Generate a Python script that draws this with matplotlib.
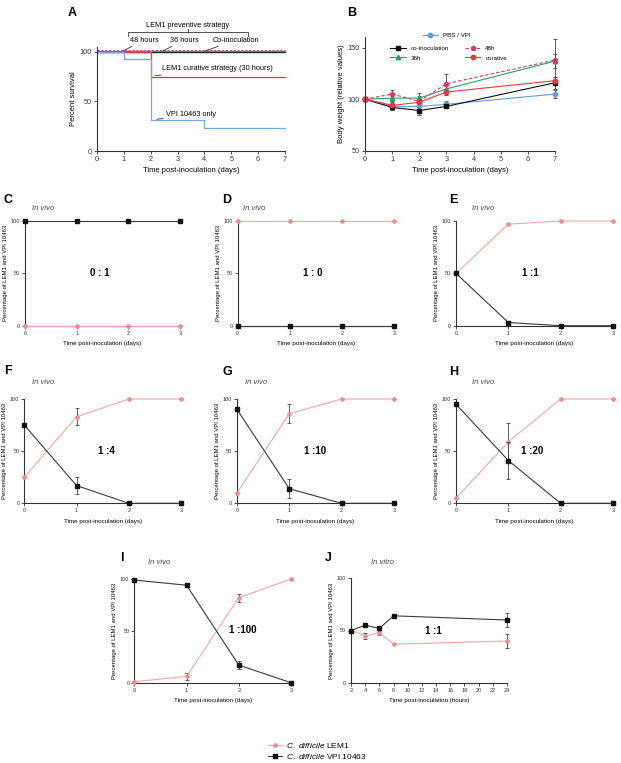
import matplotlib
matplotlib.use("Agg")
import matplotlib.pyplot as plt
from matplotlib.lines import Line2D

plt.rcParams['font.family'] = ['Liberation Sans', 'DejaVu Sans']
plt.rcParams['mathtext.fontset'] = 'custom'
plt.rcParams['mathtext.rm'] = 'Liberation Sans'
plt.rcParams['mathtext.it'] = 'Liberation Sans:italic'

W, H = 621, 763

# ---- panel A: survival (days) ----
surv_days = [0, 1, 2, 3, 4, 5, 6, 7]
surv_48h = [102, 102, 102, 102, 102, 102, 102, 102]
surv_36h = [101, 101, 101, 101, 101, 101, 101, 101]
surv_coinoc = [100, 100, 100, 100, 100, 100, 100, 100]
surv_curative = [100, 100, 75, 75, 75, 75, 75, 75]
surv_vpi = [100, 93, 31, 31, 23, 23, 23, 23]

# ---- panel B: body weight ----
bw_days = [0, 1, 2, 3, 7]
bw_pbs = [100, 93, 93, 95, 105]
bw_pbs_err = [0, 2, 3, 3, 4]
bw_coinoc = [100, 92, 89, 93, 116]
bw_coinoc_err = [0, 2, 4, 2, 6]
bw_48h = [100, 105, 98, 115, 138]
bw_48h_err = [0, 4, 5, 9, 20]
bw_36h = [100, 101, 101, 110, 137]
bw_36h_err = [0, 3, 5, 4, 7]
bw_curative = [100, 94, 97, 107, 118]
bw_curative_err = [0, 3, 4, 3, 4]

# ---- panels C-I: competition in vivo (days) ----
days = [0, 1, 2, 3]
panels = {
    'C': dict(lem=[0, 0, 0, 0], lem_err=[0, 0, 0, 0],
              vpi=[100, 100, 100, 100], vpi_err=[0, 0, 0, 0], ratio='0 : 1'),
    'D': dict(lem=[100, 100, 100, 100], lem_err=[0, 0, 0, 0],
              vpi=[0, 0, 0, 0], vpi_err=[0, 0, 0, 0], ratio='1 : 0'),
    'E': dict(lem=[50, 97, 100, 100], lem_err=[0, 1, 0, 0],
              vpi=[50, 3, 0, 0], vpi_err=[0, 1, 0, 0], ratio='1 :1'),
    'F': dict(lem=[25, 83, 100, 100], lem_err=[0, 8, 0, 0],
              vpi=[75, 17, 0, 0], vpi_err=[0, 8, 0, 0], ratio='1 :4'),
    'G': dict(lem=[10, 86, 100, 100], lem_err=[0, 9, 0, 0],
              vpi=[90, 14, 0, 0], vpi_err=[0, 9, 0, 0], ratio='1 :10'),
    'H': dict(lem=[5, 59, 100, 100], lem_err=[0, 18, 0, 0],
              vpi=[95, 41, 0, 0], vpi_err=[0, 18, 0, 0], ratio='1 :20'),
    'I': dict(lem=[1, 6, 82, 100], lem_err=[0, 3, 4, 0],
              vpi=[99, 94, 17, 0], vpi_err=[0, 2, 4, 0], ratio='1 :100'),
}

# ---- panel J: in vitro (hours) ----
hours = [2, 4, 6, 8, 24]
vitro_lem = [50, 45, 48, 37, 40]
vitro_lem_err = [0, 3, 2, 0, 7]
vitro_vpi = [50, 55, 52, 64, 60]
vitro_vpi_err = [0, 1, 1, 0, 7]

PINK = '#f08c8c'
PINK_LINE = '#f4a6a6'
DARK = '#111111'
DARK_LINE = '#3a3a3a'


def px_axes(x0, x1, y0, y1):
    # pixel box -> figure axes (y0 = bottom pixel row, y1 = top pixel row)
    return fig.add_axes([x0 / W, 1 - y0 / H, (x1 - x0) / W, (y0 - y1) / H])


def label(px, py, s, **kw):
    fig.text(px / W, 1 - py / H, s, **kw)


def style(ax, size=4):
    for s in ('top', 'right'):
        ax.spines[s].set_visible(False)
    for s in ('left', 'bottom'):
        ax.spines[s].set_linewidth(0.8)
        ax.spines[s].set_color('#333333')
    ax.tick_params(length=2, width=0.6, labelsize=size, pad=1.5, colors='#333333')


fig = plt.figure(figsize=(W / 100, H / 100), dpi=100)

# ----- A -----
ax = px_axes(97, 285, 151, 47)
style(ax, 5.3)
ax.step(surv_days, surv_coinoc, where='post', color='#222222', lw=1.0, clip_on=False)
ax.step(surv_days, surv_36h, where='post', color='#2a9d6a', lw=0.8, clip_on=False)
ax.step(surv_days, surv_48h, where='post', color='#e0457b', lw=0.8, ls=(0, (2, 1.5)), clip_on=False)
ax.step(surv_days, surv_curative, where='post', color='#e8383d', lw=0.9, clip_on=False)
ax.step(surv_days, surv_vpi, where='post', color='#6aaae8', lw=0.9, clip_on=False)
ax.set_xlim(0, 7)
ax.set_ylim(0, 105)
ax.set_xticks(range(8))
ax.set_yticks([0, 50, 100])
ax.set_xlabel('Time post-inoculation (days)', fontsize=5.5, labelpad=3)
ax.set_ylabel('Percent survival', fontsize=5.5, labelpad=2)
# bracket for preventive strategy
ax.plot([1.15, 1.15, 5.62, 5.62], [116, 120, 120, 116], color='#333333', lw=0.6, clip_on=False)
ax.plot([3.39, 3.39], [120, 123], color='#333333', lw=0.6, clip_on=False)
ax.text(3.39, 127, 'LEM1 preventive strategy', fontsize=5.3, ha='center', va='center')
kw = dict(fontsize=5.3, va='center', ha='left')
lead = dict(arrowstyle='-', color='#333333', lw=0.6, shrinkA=0, shrinkB=0)
ax.annotate('48 hours', xy=(0.97, 101), xytext=(1.22, 112), arrowprops=lead, **kw)
ax.annotate('36 hours', xy=(2.45, 101), xytext=(2.72, 112), arrowprops=lead, **kw)
ax.annotate('Co-inoculation', xy=(4.02, 101), xytext=(4.32, 112), arrowprops=lead, **kw)
ax.annotate('LEM1 curative strategy (30 hours)', xy=(2.16, 76), xytext=(2.42, 83), arrowprops=lead, **kw)
ax.annotate('VPI 10463 only', xy=(2.23, 32), xytext=(2.57, 37), arrowprops=lead, **kw)
for a in (ax.texts[1:]):
    a.set_annotation_clip(False)
label(72, 13, 'A', fontsize=9, fontweight='bold', ha='center', va='center')

# ----- B -----
ax = px_axes(365, 555, 150.7, 37.4)
style(ax, 5.3)
series_b = [
    ('PBS / VPI', bw_pbs, bw_pbs_err, '#5b9ee6', 'o', '-'),
    ('co-inoculation', bw_coinoc, bw_coinoc_err, '#111111', 's', '-'),
    ('36h', bw_36h, bw_36h_err, '#2a9d6a', '^', '-'),
    ('48h', bw_48h, bw_48h_err, '#d6336e', 'p', (0, (3, 2))),
    ('curative', bw_curative, bw_curative_err, '#e8383d', 'o', '-'),
]
handles = []
for name, y, e, c, m, ls in series_b:
    eb = ax.errorbar(bw_days, y, yerr=e, color=c, ls=ls, lw=0.8, marker=m, ms=3.2,
                     ecolor='#444444', elinewidth=0.6, capsize=1.5, capthick=0.6, clip_on=False)
    for art in eb.lines[1] + eb.lines[2]:
        art.set_clip_on(False)
    handles.append(Line2D([], [], color=c, ls=ls, lw=0.8, marker=m, ms=3.2))
ax.set_xlim(0, 7)
ax.set_ylim(50, 160)
ax.set_xticks(range(8))
ax.set_yticks([50, 100, 150])
ax.set_xlabel('Time post-inoculation (days)', fontsize=5.5, labelpad=3)
ax.set_ylabel('Body weight (relative values)', fontsize=5.5, labelpad=2)
leg1 = ax.legend([handles[0]], ['PBS / VPI'], loc='center', bbox_to_anchor=(0.43, 1.02),
                 frameon=False, fontsize=4.5, handlelength=2.5, borderpad=0)
ax.add_artist(leg1)
ax.legend([handles[1], handles[2], handles[3], handles[4]],
          ['co-inoculation', '36h', '48h', 'curative'], ncol=2, loc='center',
          bbox_to_anchor=(0.44, 0.86), frameon=False, fontsize=4.5, handlelength=2.5,
          columnspacing=2.5, labelspacing=0.6, borderpad=0)
label(352, 13, 'B', fontsize=9, fontweight='bold', ha='center', va='center')


def comp_panel(ax, x, lem, lem_err, vpi, vpi_err, ratio, rx, ry):
    style(ax, 4)
    eb1 = ax.errorbar(x, lem, yerr=lem_err, color=PINK_LINE, lw=0.8, marker='o', ms=2.3,
                      mfc=PINK, mec=PINK, ecolor='#444444', elinewidth=0.6, capsize=1.5,
                      capthick=0.6, clip_on=False, zorder=3)
    eb2 = ax.errorbar(x, vpi, yerr=vpi_err, color=DARK_LINE, lw=0.8, marker='s', ms=2.6,
                      mfc=DARK, mec=DARK, ecolor='#444444', elinewidth=0.6, capsize=1.5,
                      capthick=0.6, clip_on=False, zorder=4)
    for eb in (eb1, eb2):
        for art in eb.lines[1] + eb.lines[2]:
            art.set_clip_on(False)
    ax.set_ylim(0, 100)
    ax.set_yticks([0, 50, 100])
    ax.set_ylabel('Percentage of LEM1 and VPI 10463', fontsize=4.3, labelpad=2)
    ax.text(rx, ry, ratio, fontsize=7, fontweight='bold', ha='center', va='center')


# pixel boxes: (x0, x1, y_bottom, y_top), panel letter pos, subtitle pos, ratio pos
boxes = {
    'C': ((25, 180, 325.7, 221), (8, 200), (32, 208), (1.45, 50)),
    'D': ((237.7, 394, 325.7, 221), (227, 200), (243, 208), (1.45, 50)),
    'E': ((456, 613, 325.7, 221), (453, 200), (472, 208), (1.42, 50)),
    'F': ((24.3, 181, 503.3, 399), (8, 371), (32, 383), (1.58, 50)),
    'G': ((237, 394, 503.3, 399), (227, 372), (245, 383), (1.5, 50)),
    'H': ((456, 613, 503.3, 399), (454, 372), (472, 383), (1.45, 50)),
    'I': ((134.3, 291, 682.7, 579), (122, 558), (148, 563), (2.08, 51)),
}
for key, (box, lp, sp, rp) in boxes.items():
    d = panels[key]
    ax = px_axes(*box)
    comp_panel(ax, days, d['lem'], d['lem_err'], d['vpi'], d['vpi_err'], d['ratio'], *rp)
    ax.set_xlim(0, 3)
    ax.set_xticks(days)
    ax.set_xlabel('Time post-inoculation (days)', fontsize=4.5, labelpad=4)
    label(lp[0], lp[1], key, fontsize=9, fontweight='bold', ha='center', va='center')
    label(sp[0], sp[1], 'In vivo', fontsize=5.5, style='italic', ha='left', va='center',
          color='#444444')

# ----- J -----
ax = px_axes(351, 507, 683, 578)
comp_panel(ax, hours, vitro_lem, vitro_lem_err, vitro_vpi, vitro_vpi_err, '1 :1', 13.6, 50)
ax.set_xlim(2, 24)
ax.set_xticks(range(2, 25, 2))
ax.set_xlabel('Time post-inoculation (hours)', fontsize=4.5, labelpad=4)
label(328, 558, 'J', fontsize=9, fontweight='bold', ha='center', va='center')
label(371, 563, 'In vitro', fontsize=5.5, style='italic', ha='left', va='center', color='#444444')

# ----- shared legend -----
h_lem = Line2D([], [], color=PINK_LINE, lw=0.8, marker='o', ms=2.3, mfc=PINK, mec=PINK)
h_vpi = Line2D([], [], color=DARK_LINE, lw=0.8, marker='s', ms=2.6, mfc=DARK, mec=DARK)
fig.legend([h_lem, h_vpi], [r'$\it{C.\ difficile}$ LEM1', r'$\it{C.\ difficile}$ VPI 10463'],
           loc='upper left', bbox_to_anchor=(264 / W, 1 - 737 / H), frameon=False,
           fontsize=6, handlelength=1.6, handletextpad=0.6, labelspacing=0.2, borderpad=0)

fig.savefig('out.png', dpi=100)
